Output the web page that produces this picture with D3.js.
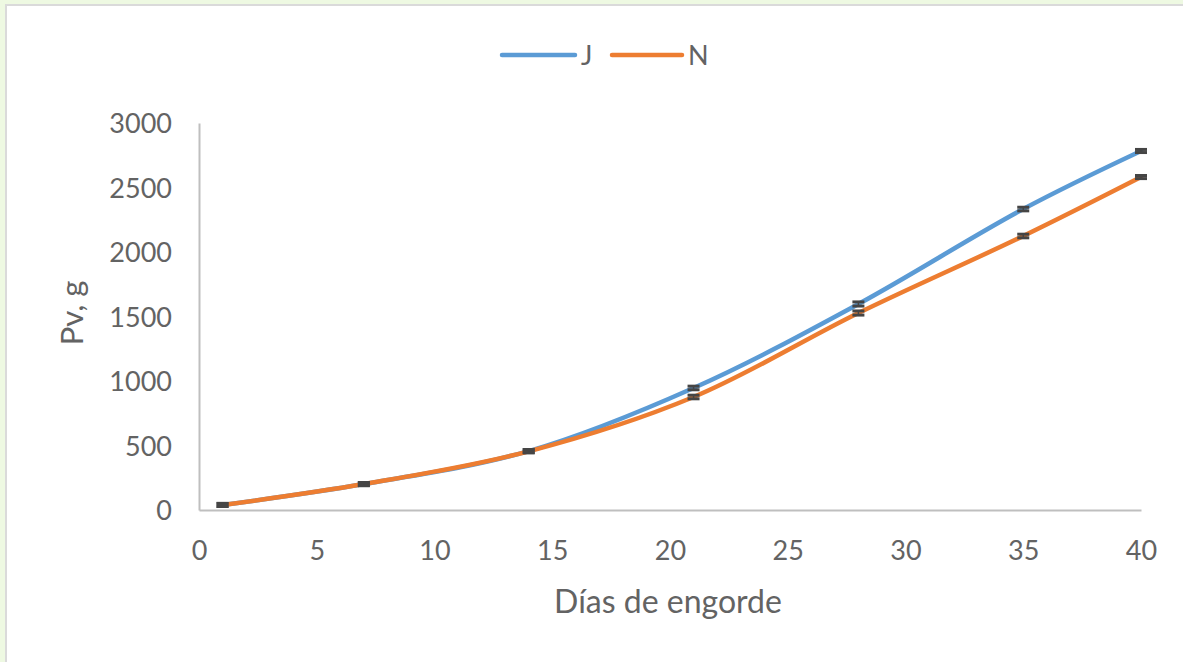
<!DOCTYPE html>
<html>
<head>
<meta charset="utf-8">
<script src="https://cdn.jsdelivr.net/npm/d3@7"></script>
<style>
  html, body { margin: 0; padding: 0; background: #ffffff; }
  svg { display: block; }
  text { font-family: Lato, "Open Sans", sans-serif; fill: #636363; }
</style>
</head>
<body>
<svg id="chart" width="1183" height="662"></svg>
<script>
// ---- data ----
const days = [1, 7, 14, 21, 28, 35, 40];
const seriesJ = [39, 201, 457, 946, 1597, 2333, 2783];
const seriesN = [39, 201, 455, 876, 1527, 2124, 2581];
const errJ = [12, 12, 12, 14, 16, 14, 12];
const errN = [12, 12, 12, 14, 16, 14, 12];
const seriesNames = ["J", "N"];
const xTicks = [0, 5, 10, 15, 20, 25, 30, 35, 40];
const yTicks = [0, 500, 1000, 1500, 2000, 2500, 3000];
const xTitle = "Días de engorde";
const yTitle = "Pv, g";

const colors = { J: "#5B9BD5", N: "#ED7D31" };
const textColor = "#636363";

const svg = d3.select("#chart");
const W = 1183, H = 662;

// frame (image border)
svg.append("rect").attr("x", 0).attr("y", 0).attr("width", W).attr("height", H).attr("fill", "#ffffff");
svg.append("rect").attr("x", 0).attr("y", 0).attr("width", W).attr("height", 4).attr("fill", "#eef9e2");
svg.append("rect").attr("x", 0).attr("y", 0).attr("width", 5).attr("height", H).attr("fill", "#eef9e2");
svg.append("rect").attr("x", 5).attr("y", 4).attr("width", W - 5).attr("height", 2).attr("fill", "#dadada");
svg.append("rect").attr("x", 5).attr("y", 4).attr("width", 2).attr("height", H - 4).attr("fill", "#dadada");

const plot = { left: 199, right: 1141, top: 123, bottom: 510 };
const x = d3.scaleLinear().domain([0, 40]).range([plot.left, plot.right]);
const y = d3.scaleLinear().domain([0, 3000]).range([plot.bottom, plot.top]);

// axes
const xAxis = d3.axisBottom(x).tickValues(xTicks).tickFormat(d3.format("d")).tickSize(0).tickPadding(31);
const yAxis = d3.axisLeft(y).tickValues(yTicks).tickFormat(d3.format("d")).tickSize(0).tickPadding(27);

const gx = svg.append("g").attr("transform", `translate(0,${plot.bottom})`).call(xAxis);
const gy = svg.append("g").attr("transform", `translate(${plot.left},0)`).call(yAxis);
[gx, gy].forEach(g => {
  g.select(".domain").attr("stroke", "#bfbfbf").attr("stroke-width", 2);
  g.selectAll("text").style("font-family", "Lato, 'Open Sans', sans-serif")
    .style("font-size", "27px").attr("fill", textColor);
});
gx.selectAll("text").attr("dy", "0.71em");
gy.selectAll("text").attr("dy", "0.36em");

// axis titles
svg.append("text").attr("x", (plot.left + plot.right) / 2 - 2).attr("y", 613)
  .attr("text-anchor", "middle").style("font-size", "32px").text(xTitle);
svg.append("text").attr("transform", "translate(83,313) rotate(-90)")
  .attr("text-anchor", "middle").style("font-size", "31px").text(yTitle);

// lines
const data = [
  { name: "J", vals: seriesJ, err: errJ },
  { name: "N", vals: seriesN, err: errN }
];
const line = d3.line()
  .x((d, i) => x(days[i]))
  .y(d => y(d))
  .curve(d3.curveCatmullRom.alpha(0.5));

data.forEach(s => {
  svg.append("path").attr("d", line(s.vals)).attr("fill", "none")
    .attr("stroke", colors[s.name]).attr("stroke-width", 4.5)
    .attr("stroke-linecap", "round").attr("stroke-linejoin", "round");
});

// error bars
data.forEach(s => {
  const g = svg.append("g").attr("stroke", "#454545").attr("stroke-width", 3);
  s.vals.forEach((v, i) => {
    const cx = x(days[i]);
    g.append("line").attr("x1", cx).attr("x2", cx).attr("y1", y(v + s.err[i])).attr("y2", y(v - s.err[i])).attr("stroke-width", 1.5);
    [v + s.err[i], v - s.err[i]].forEach(e => {
      g.append("line").attr("x1", cx - 6).attr("x2", cx + 6).attr("y1", y(e)).attr("y2", y(e));
    });
  });
});

// legend
const legend = [
  { name: seriesNames[0], x1: 502, x2: 575, tx: 581 },
  { name: seriesNames[1], x1: 612, x2: 682, tx: 688 }
];
legend.forEach(l => {
  svg.append("line").attr("x1", l.x1).attr("x2", l.x2).attr("y1", 55).attr("y2", 55)
    .attr("stroke", colors[l.name]).attr("stroke-width", 4.5).attr("stroke-linecap", "round");
  svg.append("text").attr("x", l.tx).attr("y", 55).attr("dy", "0.36em")
    .style("font-size", "27px").text(l.name);
});
</script>
</body>
</html>
